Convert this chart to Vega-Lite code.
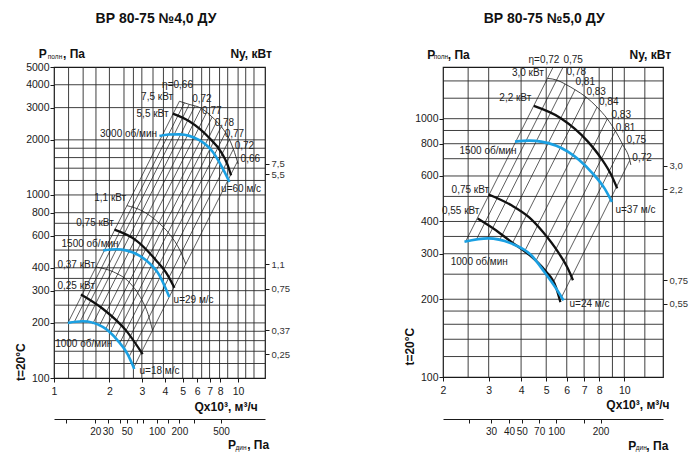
{
  "$schema": "https://vega.github.io/schema/vega-lite/v6.json",
  "background": "white",
  "padding": {"left": 14, "top": 10, "right": 5, "bottom": 5},
  "config": {
    "font": "Liberation Sans",
    "view": {"stroke": "#1a1a1a", "strokeWidth": 1.2},
    "axis": {"labelFont": "Liberation Sans", "labelColor": "#1a1a1a", "tickColor": "#1a1a1a", "domainColor": "#1a1a1a"},
    "text": {"font": "Liberation Sans"}
  },
  "datasets": {
    "gridQ4": [{"Q":1.2},{"Q":1.44},{"Q":1.69},{"Q":2},{"Q":2.4},{"Q":2.7},{"Q":3},{"Q":3.45},{"Q":3.93},{"Q":4.42},{"Q":5},{"Q":5.67},{"Q":6.34},{"Q":7},{"Q":7.93},{"Q":8.78},{"Q":10},{"Q":11},{"Q":12.2}],
    "gridP4": [{"P":120},{"P":140},{"P":160},{"P":180},{"P":200},{"P":250},{"P":300},{"P":350},{"P":400},{"P":500},{"P":600},{"P":700},{"P":800},{"P":1000},{"P":1200},{"P":1400},{"P":1600},{"P":1800},{"P":2000},{"P":3000},{"P":4000}],
    "eta4": [
      {"line":1,"Q":1.19,"P":200},{"line":1,"Q":4.80,"P":3248},
      {"line":2,"Q":1.285,"P":201},{"line":2,"Q":5.11,"P":3186},
      {"line":3,"Q":1.385,"P":203},{"line":3,"Q":5.43,"P":3124},
      {"line":4,"Q":1.496,"P":201},{"line":4,"Q":5.82,"P":3051},
      {"line":5,"Q":1.62,"P":197},{"line":5,"Q":6.30,"P":2977},
      {"line":6,"Q":1.761,"P":192},{"line":6,"Q":6.75,"P":2826},
      {"line":7,"Q":1.901,"P":184},{"line":7,"Q":7.23,"P":2664},
      {"line":8,"Q":2.016,"P":175},{"line":8,"Q":7.66,"P":2523},
      {"line":9,"Q":2.144,"P":165},{"line":9,"Q":8.10,"P":2362},
      {"line":10,"Q":2.273,"P":155},{"line":10,"Q":8.52,"P":2178},
      {"line":11,"Q":2.398,"P":144},{"line":11,"Q":8.97,"P":2012},
      {"line":12,"Q":2.551,"P":130},{"line":12,"Q":9.43,"P":1778},
      {"line":13,"Q":2.709,"P":114},{"line":13,"Q":9.91,"P":1522}
    ],
    "limit4": [
      {"series":"7,5","Q":4.80,"P":3248},{"series":"7,5","Q":5.43,"P":3124},{"series":"7,5","Q":6.30,"P":2977},{"series":"7,5","Q":7.23,"P":2664},{"series":"7,5","Q":8.10,"P":2362},{"series":"7,5","Q":8.97,"P":2012},{"series":"7,5","Q":9.43,"P":1778},{"series":"7,5","Q":10.0,"P":1476},
      {"series":"1,1","Q":2.49,"P":874},{"series":"1,1","Q":3.0,"P":820},{"series":"1,1","Q":3.58,"P":726},{"series":"1,1","Q":4.3,"P":600},{"series":"1,1","Q":4.8,"P":505},{"series":"1,1","Q":5.2,"P":419},
      {"series":"0,37","Q":1.69,"P":404},{"series":"0,37","Q":2.1,"P":380},{"series":"0,37","Q":2.55,"P":335},{"series":"0,37","Q":2.95,"P":275},{"series":"0,37","Q":3.25,"P":222},{"series":"0,37","Q":3.43,"P":182}
    ],
    "power4": [
      {"series":"5,5","Q":4.42,"P":2780},{"series":"5,5","Q":5.43,"P":2525},{"series":"5,5","Q":6.98,"P":2047},{"series":"5,5","Q":8.09,"P":1715},{"series":"5,5","Q":8.79,"P":1452},{"series":"5,5","Q":9.16,"P":1280},
      {"series":"0,75","Q":2.13,"P":646},{"series":"0,75","Q":2.79,"P":565},{"series":"0,75","Q":3.58,"P":440},{"series":"0,75","Q":4.15,"P":364},{"series":"0,75","Q":4.51,"P":311},
      {"series":"0,25","Q":1.40,"P":286},{"series":"0,25","Q":1.84,"P":239},{"series":"0,25","Q":2.46,"P":182},{"series":"0,25","Q":3.03,"P":135}
    ],
    "speed4": [
      {"series":"3000","Q":3.74,"P":2099},{"series":"3000","Q":4.2,"P":2140},{"series":"3000","Q":4.80,"P":2143},{"series":"3000","Q":6.16,"P":1990},{"series":"3000","Q":7.29,"P":1715},{"series":"3000","Q":8.26,"P":1391},{"series":"3000","Q":8.97,"P":1177},
      {"series":"1500","Q":1.85,"P":498},{"series":"1500","Q":2.2,"P":505},{"series":"1500","Q":2.46,"P":498},{"series":"1500","Q":3.16,"P":440},{"series":"1500","Q":3.74,"P":364},{"series":"1500","Q":4.23,"P":277},
      {"series":"1000","Q":1.19,"P":200},{"series":"1000","Q":1.43,"P":204},{"series":"1000","Q":1.84,"P":190},{"series":"1000","Q":2.22,"P":160},{"series":"1000","Q":2.51,"P":135},{"series":"1000","Q":2.73,"P":112}
    ],
    "labels4": [
      {"Q":4.69,"P":3987,"text":"η=0,66"},
      {"Q":3.63,"P":3428,"text":"7,5 кВт"},
      {"Q":3.43,"P":2780,"text":"5,5 кВт"},
      {"Q":2.54,"P":2160,"text":"3000 об/мин"},
      {"Q":6.36,"P":3356,"text":"0,72"},
      {"Q":7.20,"P":2863,"text":"0,77"},
      {"Q":8.43,"P":2481,"text":"0,78"},
      {"Q":9.55,"P":2160,"text":"0,77"},
      {"Q":10.82,"P":1850,"text":"0,72"},
      {"Q":11.65,"P":1574,"text":"0,66"},
      {"Q":10.38,"P":1077,"text":"u=60 м/с"},
      {"Q":2.02,"P":962,"text":"1,1 кВт"},
      {"Q":1.67,"P":702,"text":"0,75 кВт"},
      {"Q":1.57,"P":539,"text":"1500 об/мин"},
      {"Q":1.32,"P":414,"text":"0,37 кВт"},
      {"Q":1.32,"P":318,"text":"0,25 кВт"},
      {"Q":5.73,"P":267,"text":"u=29 м/с"},
      {"Q":1.45,"P":154,"text":"1000 об/мин"},
      {"Q":3.74,"P":109,"text":"u=18 м/с"}
    ],
    "caps4": [
      {"Q":0.868,"P":5911,"text":"P"},
      {"Q":1.285,"P":5911,"text":", Па"},
      {"Q":11.77,"P":5911,"text":"Ny, кВт"},
      {"Q":8.61,"P":69.3,"text":"Qx10³, м³/ч"},
      {"Q":9.28,"P":43.0,"text":"P"},
      {"Q":12.85,"P":43.0,"text":", Па"}
    ],
    "subs4": [
      {"Q":1.013,"P":5670,"text":"полн"},
      {"Q":10.38,"P":41.4,"text":"дин"}
    ],
    "title4": [{"Q":3.58,"P":9148,"text":"ВР 80-75 №4,0 ДУ"}],
    "temp4": [{"Q":0.662,"P":122,"text":"t=20°C"}],
    "gridQ5": [{"Q":2.5},{"Q":3},{"Q":4},{"Q":5},{"Q":6},{"Q":7},{"Q":8},{"Q":9},{"Q":10},{"Q":12}],
    "gridP5": [{"P":120},{"P":140},{"P":160},{"P":180},{"P":200},{"P":250},{"P":300},{"P":350},{"P":400},{"P":500},{"P":600},{"P":700},{"P":800},{"P":900},{"P":1000},{"P":1200},{"P":1400}],
    "eta5": [
      {"line":1,"Q":2.443,"P":334},{"line":1,"Q":5.32,"P":1585},
      {"line":2,"Q":2.684,"P":339},{"line":2,"Q":5.81,"P":1585},
      {"line":3,"Q":2.968,"P":344},{"line":3,"Q":5.91,"P":1362},
      {"line":4,"Q":3.296,"P":337},{"line":4,"Q":6.46,"P":1294},
      {"line":5,"Q":3.695,"P":328},{"line":5,"Q":7.11,"P":1214},
      {"line":6,"Q":4.125,"P":306},{"line":6,"Q":7.85,"P":1109},
      {"line":7,"Q":4.56,"P":281},{"line":7,"Q":8.60,"P":998},
      {"line":8,"Q":4.92,"P":255},{"line":8,"Q":9.24,"P":896},
      {"line":9,"Q":5.293,"P":230},{"line":9,"Q":9.85,"P":795},
      {"line":10,"Q":5.733,"P":204},{"line":10,"Q":10.5,"P":690}
    ],
    "limit5": [
      {"series":"3,0","Q":5.07,"P":1432},{"series":"3,0","Q":5.5,"P":1410},{"series":"3,0","Q":5.91,"P":1362},{"series":"3,0","Q":6.46,"P":1294},{"series":"3,0","Q":7.11,"P":1214},{"series":"3,0","Q":7.85,"P":1109},{"series":"3,0","Q":8.60,"P":998},{"series":"3,0","Q":9.24,"P":896},{"series":"3,0","Q":9.85,"P":795},{"series":"3,0","Q":10.5,"P":690},{"series":"3,0","Q":10.6,"P":662}
    ],
    "power5": [
      {"series":"2,2","Q":4.48,"P":1120},{"series":"2,2","Q":5.71,"P":1002},{"series":"2,2","Q":7.24,"P":815},{"series":"2,2","Q":8.15,"P":701},{"series":"2,2","Q":8.91,"P":605},{"series":"2,2","Q":9.39,"P":537},
      {"series":"0,75","Q":3.0,"P":509},{"series":"0,75","Q":3.66,"P":463},{"series":"0,75","Q":4.3,"P":415},{"series":"0,75","Q":4.85,"P":365},{"series":"0,75","Q":5.55,"P":305},{"series":"0,75","Q":6.06,"P":263},{"series":"0,75","Q":6.34,"P":237},
      {"series":"0,55","Q":2.72,"P":411},{"series":"0,55","Q":3.2,"P":370},{"series":"0,55","Q":3.66,"P":334},{"series":"0,55","Q":4.25,"P":300},{"series":"0,55","Q":4.92,"P":260},{"series":"0,55","Q":5.46,"P":222},{"series":"0,55","Q":5.67,"P":195}
    ],
    "speed5": [
      {"series":"1500","Q":3.79,"P":815},{"series":"1500","Q":4.3,"P":822},{"series":"1500","Q":4.78,"P":815},{"series":"1500","Q":6.06,"P":745},{"series":"1500","Q":7.45,"P":623},{"series":"1500","Q":8.39,"P":537},{"series":"1500","Q":8.96,"P":476},
      {"series":"1000","Q":2.42,"P":334},{"series":"1000","Q":2.98,"P":344},{"series":"1000","Q":3.66,"P":329},{"series":"1000","Q":4.38,"P":296},{"series":"1000","Q":4.92,"P":255},{"series":"1000","Q":5.46,"P":220},{"series":"1000","Q":5.83,"P":198}
    ],
    "labels5": [
      {"Q":4.90,"P":1693,"text":"η=0,72"},
      {"Q":6.35,"P":1693,"text":"0,75"},
      {"Q":4.25,"P":1498,"text":"3,0 кВт"},
      {"Q":6.53,"P":1521,"text":"0,78"},
      {"Q":7.07,"P":1391,"text":"0,81"},
      {"Q":7.79,"P":1272,"text":"0,83"},
      {"Q":8.71,"P":1164,"text":"0,84"},
      {"Q":9.73,"P":1033,"text":"0,83"},
      {"Q":10.11,"P":923,"text":"0,81"},
      {"Q":11.13,"P":827,"text":"0,75"},
      {"Q":11.71,"P":706,"text":"0,72"},
      {"Q":3.80,"P":1206,"text":"2,2 кВт"},
      {"Q":2.98,"P":752,"text":"1500 об/мин"},
      {"Q":11.04,"P":443,"text":"u=37 м/с"},
      {"Q":2.55,"P":529,"text":"0,75 кВт"},
      {"Q":2.34,"P":439,"text":"0,55 кВт"},
      {"Q":2.76,"P":279,"text":"1000 об/мин"},
      {"Q":7.34,"P":192,"text":"u=24 м/с"}
    ],
    "caps5": [
      {"Q":1.80,"P":1766,"text":"P"},
      {"Q":2.30,"P":1766,"text":", Па"},
      {"Q":12.60,"P":1766,"text":"Ny, кВт"},
      {"Q":11.29,"P":78.1,"text":"Qx10³, м³/ч"},
      {"Q":10.73,"P":54.0,"text":"P"},
      {"Q":13.41,"P":54.0,"text":", Па"}
    ],
    "subs5": [
      {"Q":1.965,"P":1739,"text":"полн"},
      {"Q":11.63,"P":53.1,"text":"дин"}
    ],
    "title5": [{"Q":4.91,"P":2441,"text":"ВР 80-75 №5,0 ДУ"}],
    "temp5": [{"Q":1.492,"P":131,"text":"t=20°C"}]
  },
  "spacing": 178,
  "bounds": "flush",
  "hconcat": [
    {
      "width": 211,
      "height": 311,
      "resolve": {"axis": {"x": "independent", "y": "independent"}},
      "layer": [
        {
          "data": {"name": "gridQ4"},
          "mark": {"type": "rule", "stroke": "#2a2a2a", "strokeWidth": 0.9},
          "encoding": {
            "x": {"field": "Q", "type": "quantitative", "scale": {"type": "log", "domain": [1, 14], "nice": false},
              "axis": {"orient": "bottom", "values": [1, 2, 3, 4, 5, 6, 7, 8, 10], "format": "d", "grid": false, "domain": false, "tickSize": 4, "labelFontSize": 10.5, "labelPadding": 4, "title": null, "labelOverlap": false, "labelFlush": false, "labelBound": false}}
          }
        },
        {
          "data": {"name": "gridP4"},
          "mark": {"type": "rule", "stroke": "#2a2a2a", "strokeWidth": 0.9},
          "encoding": {
            "y": {"field": "P", "type": "quantitative", "scale": {"type": "log", "domain": [100, 5000], "nice": false},
              "axis": {"orient": "left", "values": [100, 200, 300, 400, 600, 800, 1000, 2000, 3000, 4000, 5000], "format": "d", "grid": false, "domain": false, "tickSize": 4, "labelFontSize": 10.5, "labelPadding": 1, "title": null, "labelOverlap": false, "labelFlush": false, "labelBound": false}}
          }
        },
        {
          "data": {"name": "eta4"},
          "mark": {"type": "line", "stroke": "#1a1a1a", "strokeWidth": 0.7},
          "encoding": {
            "x": {"field": "Q", "type": "quantitative", "scale": {"type": "log", "domain": [1, 14], "nice": false},
              "axis": {"orient": "bottom", "offset": 41, "values": [1.162, 1.677, 1.958, 2.284, 2.484, 2.815, 3.057, 3.615, 4.148, 4.797, 5.788, 8.08],
                "labelExpr": "datum.value == 1.677 ? '20' : datum.value == 1.958 ? '30' : datum.value == 2.484 ? '50' : datum.value == 3.615 ? '100' : datum.value == 4.797 ? '200' : datum.value == 8.08 ? '500' : ''",
                "grid": false, "domain": true, "tickSize": 4, "labelFontSize": 10, "labelPadding": 3, "title": null, "labelOverlap": false, "labelFlush": false, "labelBound": false}},
            "y": {"field": "P", "type": "quantitative", "scale": {"type": "log", "domain": [100, 5000], "nice": false}, "axis": null},
            "detail": {"field": "line"}
          }
        },
        {
          "data": {"name": "limit4"},
          "mark": {"type": "line", "stroke": "#1a1a1a", "strokeWidth": 0.8, "interpolate": "monotone"},
          "encoding": {
            "x": {"field": "Q", "type": "quantitative", "scale": {"type": "log", "domain": [1, 14], "nice": false}, "axis": null},
            "y": {"field": "P", "type": "quantitative", "scale": {"type": "log", "domain": [100, 5000], "nice": false},
              "axis": {"orient": "right", "values": [1476, 1301, 419, 307, 182, 135],
                "labelExpr": "datum.value == 1476 ? '7,5' : datum.value == 1301 ? '5,5' : datum.value == 419 ? '1,1' : datum.value == 307 ? '0,75' : datum.value == 182 ? '0,37' : '0,25'",
                "grid": false, "domain": false, "tickSize": 4, "labelFontSize": 9.5, "labelColor": "#333", "labelPadding": 2, "title": null, "labelOverlap": false, "labelFlush": false, "labelBound": false}},
            "detail": {"field": "series"}
          }
        },
        {
          "data": {"name": "power4"},
          "mark": {"type": "line", "stroke": "#111", "strokeWidth": 2.3, "interpolate": "monotone"},
          "encoding": {
            "x": {"field": "Q", "type": "quantitative", "scale": {"type": "log", "domain": [1, 14], "nice": false}, "axis": null},
            "y": {"field": "P", "type": "quantitative", "scale": {"type": "log", "domain": [100, 5000], "nice": false}, "axis": null},
            "detail": {"field": "series"}
          }
        },
        {
          "data": {"name": "speed4"},
          "mark": {"type": "line", "stroke": "#1ba0e2", "strokeWidth": 2.6, "interpolate": "monotone"},
          "encoding": {
            "x": {"field": "Q", "type": "quantitative", "scale": {"type": "log", "domain": [1, 14], "nice": false}, "axis": null},
            "y": {"field": "P", "type": "quantitative", "scale": {"type": "log", "domain": [100, 5000], "nice": false}, "axis": null},
            "detail": {"field": "series"}
          }
        },
        {
          "data": {"name": "labels4"},
          "mark": {"type": "text", "fontSize": 10, "color": "#222", "align": "center", "baseline": "middle"},
          "encoding": {
            "x": {"field": "Q", "type": "quantitative", "scale": {"type": "log", "domain": [1, 14], "nice": false}, "axis": null},
            "y": {"field": "P", "type": "quantitative", "scale": {"type": "log", "domain": [100, 5000], "nice": false}, "axis": null},
            "text": {"field": "text"}
          }
        },
        {
          "data": {"name": "caps4"},
          "mark": {"type": "text", "fontSize": 12, "fontWeight": "bold", "color": "#111", "align": "center", "baseline": "middle"},
          "encoding": {
            "x": {"field": "Q", "type": "quantitative", "scale": {"type": "log", "domain": [1, 14], "nice": false}, "axis": null},
            "y": {"field": "P", "type": "quantitative", "scale": {"type": "log", "domain": [100, 5000], "nice": false}, "axis": null},
            "text": {"field": "text"}
          }
        },
        {
          "data": {"name": "subs4"},
          "mark": {"type": "text", "fontSize": 6.5, "color": "#111", "align": "center", "baseline": "middle"},
          "encoding": {
            "x": {"field": "Q", "type": "quantitative", "scale": {"type": "log", "domain": [1, 14], "nice": false}, "axis": null},
            "y": {"field": "P", "type": "quantitative", "scale": {"type": "log", "domain": [100, 5000], "nice": false}, "axis": null},
            "text": {"field": "text"}
          }
        },
        {
          "data": {"name": "title4"},
          "mark": {"type": "text", "fontSize": 14, "fontWeight": "bold", "color": "#111", "align": "center", "baseline": "middle"},
          "encoding": {
            "x": {"field": "Q", "type": "quantitative", "scale": {"type": "log", "domain": [1, 14], "nice": false}, "axis": null},
            "y": {"field": "P", "type": "quantitative", "scale": {"type": "log", "domain": [100, 5000], "nice": false}, "axis": null},
            "text": {"field": "text"}
          }
        },
        {
          "data": {"name": "temp4"},
          "mark": {"type": "text", "fontSize": 12, "fontWeight": "bold", "color": "#111", "align": "center", "baseline": "middle", "angle": 270},
          "encoding": {
            "x": {"field": "Q", "type": "quantitative", "scale": {"type": "log", "domain": [1, 14], "nice": false}, "axis": null},
            "y": {"field": "P", "type": "quantitative", "scale": {"type": "log", "domain": [100, 5000], "nice": false}, "axis": null},
            "text": {"field": "text"}
          }
        }
      ]
    },
    {
      "width": 220,
      "height": 310,
      "resolve": {"axis": {"x": "independent", "y": "independent"}},
      "layer": [
        {
          "data": {"name": "gridQ5"},
          "mark": {"type": "rule", "stroke": "#2a2a2a", "strokeWidth": 0.9},
          "encoding": {
            "x": {"field": "Q", "type": "quantitative", "scale": {"type": "log", "domain": [2, 14.1], "nice": false},
              "axis": {"orient": "bottom", "values": [2, 3, 4, 5, 6, 7, 8, 10], "format": "d", "grid": false, "domain": false, "tickSize": 4, "labelFontSize": 10.5, "labelPadding": 4, "title": null, "labelOverlap": false, "labelFlush": false, "labelBound": false}}
          }
        },
        {
          "data": {"name": "gridP5"},
          "mark": {"type": "rule", "stroke": "#2a2a2a", "strokeWidth": 0.9},
          "encoding": {
            "y": {"field": "P", "type": "quantitative", "scale": {"type": "log", "domain": [100, 1585], "nice": false},
              "axis": {"orient": "left", "values": [100, 200, 300, 400, 600, 800, 1000], "format": "d", "grid": false, "domain": false, "tickSize": 4, "labelFontSize": 10.5, "labelPadding": 1, "title": null, "labelOverlap": false, "labelFlush": false, "labelBound": false}}
          }
        },
        {
          "data": {"name": "eta5"},
          "mark": {"type": "line", "stroke": "#1a1a1a", "strokeWidth": 0.7},
          "encoding": {
            "x": {"field": "Q", "type": "quantitative", "scale": {"type": "log", "domain": [2, 14.1], "nice": false},
              "axis": {"orient": "bottom", "offset": 42, "values": [2.528, 3.064, 3.596, 4.026, 4.696, 5.463, 6.988, 8.098],
                "labelExpr": "datum.value == 3.064 ? '30' : datum.value == 3.596 ? '40' : datum.value == 4.026 ? '50' : datum.value == 4.696 ? '70' : datum.value == 5.463 ? '100' : datum.value == 8.098 ? '200' : ''",
                "grid": false, "domain": true, "tickSize": 4, "labelFontSize": 10, "labelPadding": 3, "title": null, "labelOverlap": false, "labelFlush": false, "labelBound": false}},
            "y": {"field": "P", "type": "quantitative", "scale": {"type": "log", "domain": [100, 1585], "nice": false}, "axis": null},
            "detail": {"field": "line"}
          }
        },
        {
          "data": {"name": "limit5"},
          "mark": {"type": "line", "stroke": "#1a1a1a", "strokeWidth": 0.8, "interpolate": "monotone"},
          "encoding": {
            "x": {"field": "Q", "type": "quantitative", "scale": {"type": "log", "domain": [2, 14.1], "nice": false}, "axis": null},
            "y": {"field": "P", "type": "quantitative", "scale": {"type": "log", "domain": [100, 1585], "nice": false},
              "axis": {"orient": "right", "values": [657, 534, 237, 192],
                "labelExpr": "datum.value == 657 ? '3,0' : datum.value == 534 ? '2,2' : datum.value == 237 ? '0,75' : '0,55'",
                "grid": false, "domain": false, "tickSize": 4, "labelFontSize": 9.5, "labelColor": "#333", "labelPadding": 2, "title": null, "labelOverlap": false, "labelFlush": false, "labelBound": false}},
            "detail": {"field": "series"}
          }
        },
        {
          "data": {"name": "power5"},
          "mark": {"type": "line", "stroke": "#111", "strokeWidth": 2.3, "interpolate": "monotone"},
          "encoding": {
            "x": {"field": "Q", "type": "quantitative", "scale": {"type": "log", "domain": [2, 14.1], "nice": false}, "axis": null},
            "y": {"field": "P", "type": "quantitative", "scale": {"type": "log", "domain": [100, 1585], "nice": false}, "axis": null},
            "detail": {"field": "series"}
          }
        },
        {
          "data": {"name": "speed5"},
          "mark": {"type": "line", "stroke": "#1ba0e2", "strokeWidth": 2.6, "interpolate": "monotone"},
          "encoding": {
            "x": {"field": "Q", "type": "quantitative", "scale": {"type": "log", "domain": [2, 14.1], "nice": false}, "axis": null},
            "y": {"field": "P", "type": "quantitative", "scale": {"type": "log", "domain": [100, 1585], "nice": false}, "axis": null},
            "detail": {"field": "series"}
          }
        },
        {
          "data": {"name": "labels5"},
          "mark": {"type": "text", "fontSize": 10, "color": "#222", "align": "center", "baseline": "middle"},
          "encoding": {
            "x": {"field": "Q", "type": "quantitative", "scale": {"type": "log", "domain": [2, 14.1], "nice": false}, "axis": null},
            "y": {"field": "P", "type": "quantitative", "scale": {"type": "log", "domain": [100, 1585], "nice": false}, "axis": null},
            "text": {"field": "text"}
          }
        },
        {
          "data": {"name": "caps5"},
          "mark": {"type": "text", "fontSize": 12, "fontWeight": "bold", "color": "#111", "align": "center", "baseline": "middle"},
          "encoding": {
            "x": {"field": "Q", "type": "quantitative", "scale": {"type": "log", "domain": [2, 14.1], "nice": false}, "axis": null},
            "y": {"field": "P", "type": "quantitative", "scale": {"type": "log", "domain": [100, 1585], "nice": false}, "axis": null},
            "text": {"field": "text"}
          }
        },
        {
          "data": {"name": "subs5"},
          "mark": {"type": "text", "fontSize": 6.5, "color": "#111", "align": "center", "baseline": "middle"},
          "encoding": {
            "x": {"field": "Q", "type": "quantitative", "scale": {"type": "log", "domain": [2, 14.1], "nice": false}, "axis": null},
            "y": {"field": "P", "type": "quantitative", "scale": {"type": "log", "domain": [100, 1585], "nice": false}, "axis": null},
            "text": {"field": "text"}
          }
        },
        {
          "data": {"name": "title5"},
          "mark": {"type": "text", "fontSize": 14, "fontWeight": "bold", "color": "#111", "align": "center", "baseline": "middle"},
          "encoding": {
            "x": {"field": "Q", "type": "quantitative", "scale": {"type": "log", "domain": [2, 14.1], "nice": false}, "axis": null},
            "y": {"field": "P", "type": "quantitative", "scale": {"type": "log", "domain": [100, 1585], "nice": false}, "axis": null},
            "text": {"field": "text"}
          }
        },
        {
          "data": {"name": "temp5"},
          "mark": {"type": "text", "fontSize": 12, "fontWeight": "bold", "color": "#111", "align": "center", "baseline": "middle", "angle": 270},
          "encoding": {
            "x": {"field": "Q", "type": "quantitative", "scale": {"type": "log", "domain": [2, 14.1], "nice": false}, "axis": null},
            "y": {"field": "P", "type": "quantitative", "scale": {"type": "log", "domain": [100, 1585], "nice": false}, "axis": null},
            "text": {"field": "text"}
          }
        }
      ]
    }
  ]
}
